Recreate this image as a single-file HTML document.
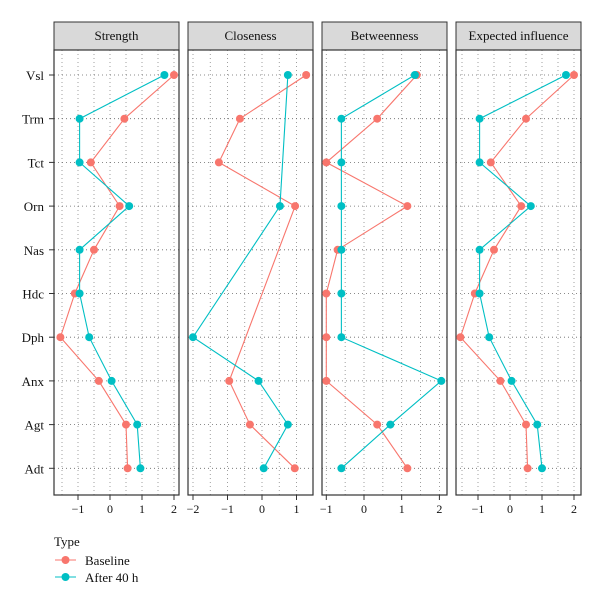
<!DOCTYPE html>
<html><head><meta charset="utf-8">
<style>
body{margin:0;background:#fff;}
svg{font-family:"Liberation Serif",serif;}
</style></head>
<body>
<svg id="chart" width="600" height="601" viewBox="0 0 600 601"></svg>
<script>
const categories=["Vsl","Trm","Tct","Orn","Nas","Hdc","Dph","Anx","Agt","Adt"];
const panelTitles=["Strength","Closeness","Betweenness","Expected influence"];
const strengthBaseline=[2.0,0.45,-0.6,0.3,-0.5,-1.1,-1.55,-0.35,0.5,0.55];
const strengthAfter=[1.7,-0.95,-0.95,0.6,-0.95,-0.95,-0.65,0.05,0.85,0.95];
const closenessBaseline=[1.28,-0.64,-1.25,0.96,null,null,null,-0.95,-0.35,0.95];
const closenessAfter=[0.75,null,null,0.52,null,null,-2.0,-0.1,0.75,0.05];
const betweennessBaseline=[1.4,0.35,-1.0,1.15,-0.7,-1.0,-1.0,-1.0,0.35,1.15];
const betweennessAfter=[1.35,-0.6,-0.6,-0.6,-0.6,-0.6,-0.6,2.05,0.7,-0.6];
const expectedBaseline=[2.0,0.5,-0.6,0.35,-0.5,-1.1,-1.55,-0.3,0.5,0.55];
const expectedAfter=[1.75,-0.95,-0.95,0.65,-0.95,-0.95,-0.65,0.05,0.85,1.0];
const tickStrength=[-1,0,1,2];
const tickCloseness=[-2,-1,0,1];
const tickBetweenness=[-1,0,1,2];
const tickExpected=[-1,0,1,2];
const seriesNames=["Baseline","After 40 h"];

const colors=["#F8766D","#00BFC4"];
const NS="http://www.w3.org/2000/svg";
const svg=document.getElementById("chart");
function mk(tag,attrs,parent){const e=document.createElementNS(NS,tag);for(const k in attrs)e.setAttribute(k,attrs[k]);(parent||svg).appendChild(e);return e;}

const panels=[
 {x0:54,x1:179,zero:110,unit:32,ticks:tickStrength,b:strengthBaseline,a:strengthAfter},
 {x0:188,x1:313,zero:262,unit:34.5,ticks:tickCloseness,b:closenessBaseline,a:closenessAfter},
 {x0:322,x1:447,zero:364,unit:37.7,ticks:tickBetweenness,b:betweennessBaseline,a:betweennessAfter},
 {x0:456,x1:581,zero:510,unit:32,ticks:tickExpected,b:expectedBaseline,a:expectedAfter}
];
const plotTop=50,plotBottom=495,hTop=22;
function yPos(i){return 75+i*43.7;}

categories.forEach((c,i)=>{
  const t=mk("text",{x:44,y:yPos(i)+5,"text-anchor":"end","font-size":13,fill:"#111"});
  t.textContent=c;
  
  
  const tk=mk("line",{x1:49,x2:54,y1:yPos(i),y2:yPos(i),stroke:"#333"});
  
  
});

panels.forEach((p,pi)=>{
  const g=mk("g",{});
  
  
  const xs=v=>p.zero+v*p.unit;
  const hr=mk("rect",{x:p.x0,y:hTop,width:p.x1-p.x0,height:plotTop-hTop,fill:"#d9d9d9",stroke:"#333","stroke-width":1},g);
  
  
  const ht=mk("text",{x:(p.x0+p.x1)/2,y:hTop+18,"text-anchor":"middle","font-size":13,fill:"#111"},g);
  ht.textContent=panelTitles[pi];
  
  
  const lo=Math.ceil(((p.x0-p.zero)/p.unit)*2)/2, hi=Math.floor(((p.x1-p.zero)/p.unit)*2)/2;
  for(let v=lo;v<=hi+1e-9;v+=0.5){
    const gl=mk("line",{x1:xs(v),x2:xs(v),y1:plotTop,y2:plotBottom,stroke:"#888","stroke-width":0.8,"stroke-dasharray":"1,3"},g);
    
    
  }
  categories.forEach((c,i)=>{
    const gl=mk("line",{x1:p.x0,x2:p.x1,y1:yPos(i),y2:yPos(i),stroke:"#666","stroke-width":0.8,"stroke-dasharray":"1,3"},g);
    
    
  });
  const fr=mk("rect",{x:p.x0,y:plotTop,width:p.x1-p.x0,height:plotBottom-plotTop,fill:"none",stroke:"#333","stroke-width":1.2},g);
  
  
  p.ticks.forEach(v=>{
    const tk=mk("line",{x1:xs(v),x2:xs(v),y1:plotBottom,y2:plotBottom+5,stroke:"#333"},g);
    
    
    const tl=mk("text",{x:xs(v),y:plotBottom+18,"text-anchor":"middle","font-size":12,fill:"#111"},g);
    tl.textContent=v<0?"\u2212"+Math.abs(v):String(v);
    
    
  });
  [p.b,p.a].forEach((arr,si)=>{
    const pts=[];
    arr.forEach((v,i)=>{if(v!==null)pts.push([xs(v),yPos(i)]);});
    const pl=mk("polyline",{points:pts.map(q=>q.join(",")).join(" "),fill:"none",stroke:colors[si],"stroke-width":1.1},g);
    
    
    arr.forEach((v,i)=>{
      if(v===null)return;
      const c=mk("circle",{cx:xs(v),cy:yPos(i),r:4,fill:colors[si]},g);
      
      
    });
  });
});

const lg=mk("g",{});


const lt=mk("text",{x:54,y:546,"font-size":13,fill:"#111"},lg);
lt.textContent="Type";


seriesNames.forEach((n,i)=>{
  const y=560+i*17;
  const l=mk("line",{x1:55,x2:76,y1:y,y2:y,stroke:colors[i],"stroke-width":1.1},lg);
  
  
  const c=mk("circle",{cx:65.5,cy:y,r:4,fill:colors[i]},lg);
  
  
  const t=mk("text",{x:85,y:y+5,"font-size":13,fill:"#111"},lg);
  t.textContent=n;
  
  
});
</script>
</body></html>
